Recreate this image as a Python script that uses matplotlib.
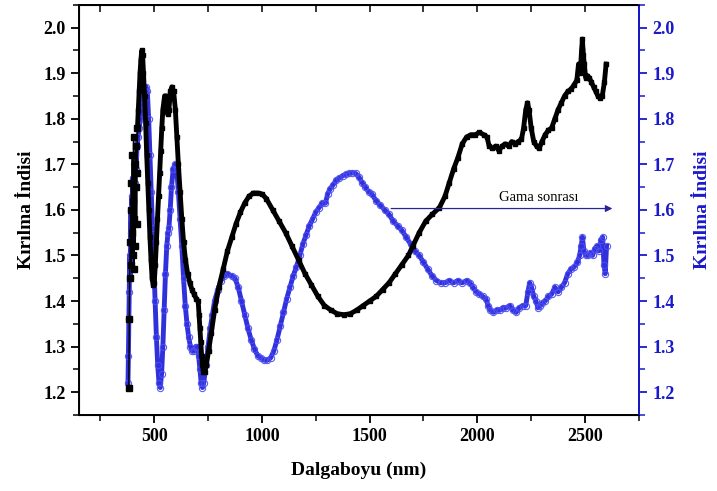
import matplotlib
matplotlib.use('Agg')
import matplotlib.pyplot as plt
from matplotlib.ticker import MultipleLocator

plt.rcParams['font.family'] = ['Liberation Serif', 'DejaVu Serif']

# black series (before gamma)
black_x = [382, 384, 386, 388, 390, 392, 394, 396, 398, 400, 402, 404, 406, 408, 410, 412, 414, 416, 418, 420,
           422, 426, 430, 434, 438, 442, 446, 450, 455, 460, 465, 470, 475, 480, 485, 490, 495, 500, 505, 510,
           515, 520, 525, 530, 535, 540, 548, 555, 562, 568, 575, 582, 590, 598, 605, 612, 620, 628, 636, 645,
           655, 665, 675, 685, 695, 704, 708, 712, 716, 720, 724, 728, 734, 742, 752, 765, 780, 800, 820, 840,
           860, 880, 900, 920, 940, 960, 980, 1000, 1020, 1050, 1080, 1110, 1140, 1170, 1200, 1230, 1260, 1290,
           1320, 1350, 1380, 1410, 1440, 1470, 1500, 1530, 1560, 1590, 1620, 1650, 1680, 1700, 1730, 1760, 1790,
           1824, 1850, 1870, 1890, 1910, 1930, 1950, 1970, 1990, 2010, 2030, 2045, 2055, 2070, 2085, 2100, 2115,
           2130, 2145, 2160, 2175, 2190, 2205, 2215, 2225, 2233, 2240, 2250, 2262, 2275, 2287, 2300, 2315, 2330,
           2345, 2360, 2375, 2390, 2405, 2420, 2435, 2450, 2462, 2470, 2478, 2484, 2488, 2492, 2497, 2503, 2510,
           2520, 2530, 2540, 2550, 2560, 2570, 2580, 2590, 2598]
black_y = [1.21, 1.36, 1.45, 1.53, 1.60, 1.48, 1.66, 1.55, 1.72, 1.50, 1.62, 1.76, 1.47, 1.58, 1.70, 1.52, 1.65, 1.74, 1.57, 1.68,
           1.78, 1.82, 1.86, 1.90, 1.93, 1.95, 1.94, 1.90, 1.85, 1.79, 1.72, 1.66, 1.60, 1.54, 1.49, 1.45, 1.435, 1.44, 1.48, 1.53,
           1.58, 1.63, 1.68, 1.73, 1.78, 1.82, 1.85, 1.85, 1.81, 1.82, 1.86, 1.87, 1.86, 1.82, 1.76, 1.70, 1.64, 1.58, 1.53, 1.49,
           1.46, 1.44, 1.425, 1.415, 1.405, 1.40, 1.37, 1.34, 1.31, 1.28, 1.26, 1.245, 1.245, 1.26, 1.29, 1.33, 1.38, 1.43, 1.47, 1.51,
           1.54, 1.57, 1.595, 1.615, 1.63, 1.637, 1.637, 1.635, 1.625, 1.60, 1.575, 1.55, 1.52, 1.49, 1.46, 1.435, 1.41, 1.39,
           1.38, 1.372, 1.37, 1.372, 1.38, 1.39, 1.40, 1.41, 1.425, 1.44, 1.46, 1.48, 1.50, 1.52, 1.55, 1.575, 1.59,
           1.605, 1.63, 1.66, 1.69, 1.715, 1.745, 1.76, 1.765, 1.765, 1.77, 1.765, 1.76, 1.74, 1.735, 1.74, 1.73, 1.74,
           1.745, 1.74, 1.75, 1.745, 1.75, 1.755, 1.78, 1.82, 1.835, 1.82, 1.78, 1.75, 1.74, 1.735, 1.75, 1.765, 1.775,
           1.78, 1.80, 1.82, 1.835, 1.85, 1.86, 1.865, 1.875, 1.885, 1.92, 1.90, 1.95, 1.975, 1.94, 1.92, 1.89, 1.895,
           1.89, 1.88, 1.87, 1.86, 1.85, 1.845, 1.85, 1.88, 1.92]

# blue series (after gamma, "Gama sonrası")
blue_x = [378, 380, 382, 384, 386, 388, 390, 392, 394, 396, 398, 400, 403, 406, 409, 412, 416, 420, 425, 430,
          436, 442, 448, 455, 462, 468, 474, 480, 486, 492, 498, 504, 510, 516, 522, 528, 534, 540, 546, 552,
          558, 564, 568, 574, 580, 588, 596, 604, 612, 620, 628, 636, 644, 652, 660, 668, 676, 684, 692, 700,
          706, 712, 718, 724, 730, 740, 750, 760, 770, 780, 795, 810, 825, 840, 860, 875, 890, 905, 920, 935,
          950, 965, 980, 995, 1010, 1025, 1040, 1055, 1070, 1085, 1100, 1115, 1130, 1145, 1160, 1176, 1190, 1205,
          1220, 1235, 1250, 1265, 1280, 1295, 1305, 1315, 1330, 1345, 1360, 1375, 1390, 1405, 1420, 1435, 1450,
          1465, 1480, 1495, 1510, 1530, 1550, 1570, 1590, 1610, 1630, 1650, 1670, 1690, 1710, 1730, 1750, 1770,
          1790, 1810, 1830, 1850, 1870, 1890, 1910, 1930, 1950, 1965, 1980, 1995, 2010, 2025, 2040, 2050, 2060,
          2075, 2090, 2105, 2120, 2135, 2150, 2165, 2180, 2195, 2210, 2225, 2235, 2243, 2252, 2262, 2272, 2282,
          2292, 2302, 2315, 2330, 2345, 2360, 2375, 2390, 2405, 2420, 2435, 2450, 2465, 2475, 2482, 2488, 2495,
          2505, 2515, 2525, 2535, 2545, 2555, 2565, 2575, 2582, 2588, 2594, 2600]
blue_y = [1.22, 1.28, 1.36, 1.42, 1.50, 1.45, 1.55, 1.60, 1.52, 1.63, 1.58, 1.67, 1.62, 1.70, 1.66, 1.72, 1.69, 1.74, 1.76, 1.78,
          1.80, 1.83, 1.85, 1.86, 1.87, 1.86, 1.80, 1.72, 1.64, 1.56, 1.48, 1.40, 1.32, 1.26, 1.22, 1.21, 1.24, 1.30, 1.38, 1.46,
          1.52, 1.55, 1.56, 1.60, 1.65, 1.69, 1.70, 1.69, 1.64, 1.58, 1.52, 1.45, 1.39, 1.35, 1.32, 1.30, 1.29, 1.29, 1.30, 1.30,
          1.28, 1.25, 1.22, 1.21, 1.22, 1.26, 1.30, 1.34, 1.37, 1.40, 1.425, 1.445, 1.455, 1.46, 1.455, 1.45, 1.43, 1.40, 1.37, 1.34,
          1.315, 1.295, 1.28, 1.275, 1.27, 1.27, 1.275, 1.29, 1.315, 1.345, 1.375, 1.405, 1.43, 1.455, 1.475, 1.50, 1.525, 1.545,
          1.565, 1.58, 1.595, 1.605, 1.615, 1.615, 1.635, 1.645, 1.655, 1.665, 1.67, 1.675, 1.678, 1.68, 1.682, 1.68, 1.672,
          1.66, 1.65, 1.64, 1.635, 1.62, 1.61, 1.60, 1.59, 1.575, 1.565, 1.555, 1.54, 1.525, 1.51, 1.50, 1.485, 1.47,
          1.455, 1.445, 1.44, 1.44, 1.445, 1.44, 1.445, 1.44, 1.445, 1.44, 1.43, 1.42, 1.415, 1.41, 1.405, 1.39, 1.38,
          1.375, 1.38, 1.38, 1.385, 1.385, 1.39, 1.38, 1.375, 1.385, 1.39, 1.39, 1.42, 1.44, 1.43, 1.41, 1.40, 1.385,
          1.39, 1.395, 1.40, 1.41, 1.415, 1.43, 1.42, 1.43, 1.44, 1.46, 1.47, 1.475, 1.485, 1.50, 1.52, 1.54, 1.51,
          1.50, 1.50, 1.505, 1.50, 1.515, 1.52, 1.51, 1.535, 1.54, 1.48, 1.46, 1.52]

blue = (0.1, 0.1, 0.8)
n_noisy = 20  # first scattered points near 380-420 nm are drawn with a thin line

fig = plt.figure(figsize=(7.17, 4.91), dpi=100)
ax = fig.add_axes([0.110, 0.155, 0.781, 0.835])
ax2 = ax.twinx()

ax.plot(blue_x, blue_y, color=(0.1, 0.1, 0.85), lw=3.5, alpha=0.9, marker='o', ms=4.5,
        mfc='none', mec=(0.3, 0.3, 0.95), mew=0.8, zorder=2)
ax.plot(black_x[:n_noisy + 1], black_y[:n_noisy + 1], color='black', lw=1, marker='s', ms=4, zorder=3)
ax.plot(black_x[n_noisy:], black_y[n_noisy:], color='black', lw=3.5, marker='s', ms=3.5, zorder=3)

ax.annotate('', xy=(2640, 1.603), xytext=(1587, 1.603),
            arrowprops=dict(arrowstyle='-|>', color=(0.15, 0.15, 0.6), lw=0.9, mutation_scale=10))
ax.text(2287, 1.627, 'Gama sonrası', ha='center', va='center', fontsize=10.5)

for a in (ax, ax2):
    a.set_xlim(150, 2750)
    a.set_ylim(1.15, 2.05)
    a.yaxis.set_major_locator(MultipleLocator(0.1))
    a.yaxis.set_minor_locator(MultipleLocator(0.05))

ax.xaxis.set_major_locator(MultipleLocator(500))
ax.xaxis.set_minor_locator(MultipleLocator(250))
ax.tick_params(axis='both', which='major', direction='out', length=6, width=1.3, right=False)
ax.tick_params(axis='both', which='minor', direction='out', length=4, width=1.1, right=False)
for lab in ax.get_xticklabels() + ax.get_yticklabels():
    lab.set_fontsize(13)
    lab.set_fontweight('bold')

top = ax.secondary_xaxis('top')
top.xaxis.set_major_locator(MultipleLocator(500))
top.xaxis.set_minor_locator(MultipleLocator(250))
top.tick_params(which='both', direction='in', length=5, width=1.1, labeltop=False)

ax2.tick_params(axis='y', which='major', direction='out', length=6, width=1.3, colors=blue)
ax2.tick_params(axis='y', which='minor', direction='out', length=4, width=1.1, colors=blue)
for lab in ax2.get_yticklabels():
    lab.set_fontsize(13)
    lab.set_fontweight('bold')
    lab.set_color(blue)

for s in ax.spines.values():
    s.set_linewidth(1.4)
ax2.spines['right'].set_color(blue)
ax2.spines['right'].set_linewidth(1.4)
top.spines['top'].set_linewidth(1.4)

ax.set_xlabel('Dalgaboyu (nm)', fontsize=14, fontweight='bold', labelpad=12)
ax.set_ylabel('Kırılma İndisi', fontsize=14, fontweight='bold', labelpad=6)
ax2.set_ylabel('Kırılma İndisi', fontsize=14, fontweight='bold', color=blue, labelpad=14)

fig.savefig('out.png', dpi=100)
